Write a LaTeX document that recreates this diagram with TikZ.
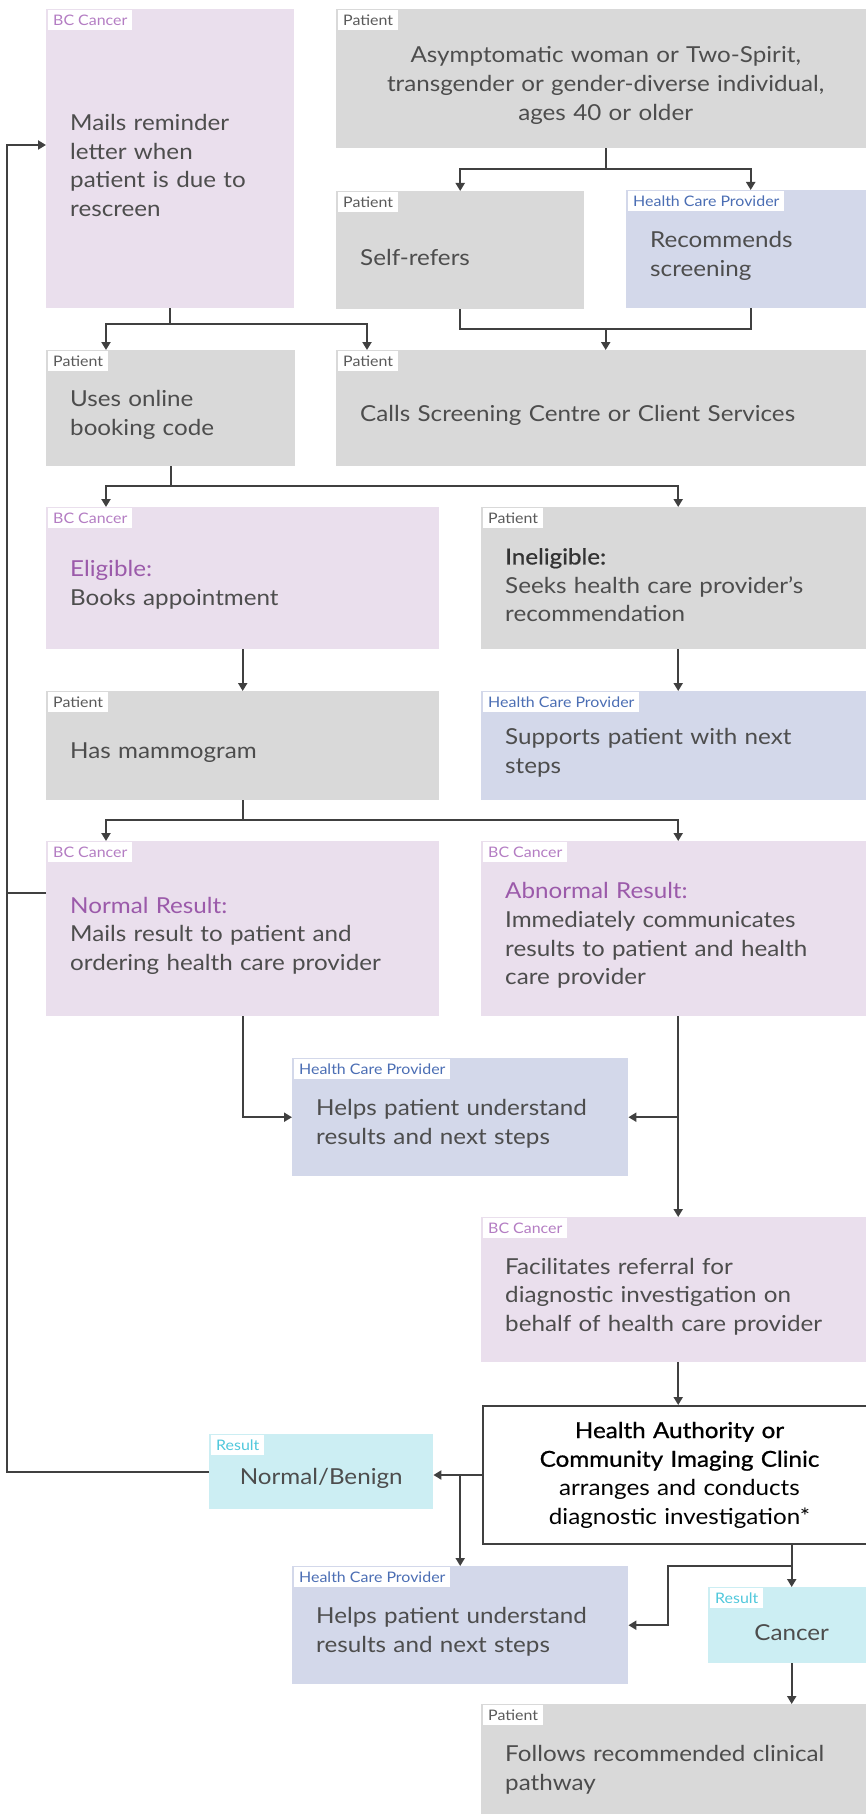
\documentclass[tikz,border=0pt]{standalone}
\usepackage{fontspec}
\setmainfont{Lato}[FakeStretch=1.1]
\newfontfamily\medfont{Lato}[FakeStretch=1.1, FakeBold=0.8]
\usetikzlibrary{arrows.meta}

\definecolor{ink}{RGB}{77,77,77}
\definecolor{linec}{RGB}{64,64,64}
\definecolor{emph}{RGB}{155,90,170}
\definecolor{bcfill}{RGB}{234,223,237}
\definecolor{bctag}{RGB}{180,125,195}
\definecolor{ptfill}{RGB}{217,217,217}
\definecolor{pttag}{RGB}{90,90,90}
\definecolor{hcpfill}{RGB}{211,216,234}
\definecolor{hcptag}{RGB}{75,110,180}
\definecolor{resfill}{RGB}{204,238,243}
\definecolor{restag}{RGB}{80,200,220}

\newcommand{\bodyfont}{\fontsize{22}{28.7}\selectfont}
\newcommand{\tagfont}{\fontsize{14.5}{16}\selectfont}

\tikzset{
  box/.style={anchor=north west, inner ysep=0pt, font=\bodyfont, text=ink},
  leftbox/.style={box, inner xsep=12pt, align=left, execute at begin node={\leftskip=12pt\rule{0pt}{30pt}}},
  midbox/.style={box, inner xsep=24pt, align=center, execute at begin node={\rule{0pt}{30pt}}},
  bcbox/.style={leftbox, fill=bcfill},
  ptbox/.style={leftbox, fill=ptfill},
  hcpbox/.style={leftbox, fill=hcpfill},
  resbox/.style={midbox, fill=resfill},
  tag/.style={anchor=north west, fill=white, inner xsep=5pt, inner ysep=0pt, minimum height=20pt, font=\tagfont, text=#1},
  link/.style={draw=linec, line width=2pt},
  conn/.style={link, -{Triangle[length=8pt,width=9pt]}},
}

\begin{document}
\begin{tikzpicture}[x=1pt,y=-1pt]
  \useasboundingbox (0,0) rectangle (866,1814);
  \clip (0,0) rectangle (866,1814);

  % screening start
  \node[bcbox, text width=224pt, minimum height=299pt] (remind) at (46,9) {Mails reminder\\letter when\\patient is due to\\rescreen};
  \node[midbox, fill=ptfill, text width=491pt, minimum height=139pt] (asym) at (336,9) {Asymptomatic woman or Two-Spirit,\\transgender or gender-diverse individual,\\ages 40 or older};
  \node[ptbox, text width=224pt, minimum height=118pt] (selfref) at (336,191) {Self-refers};
  \node[hcpbox, text width=225pt, minimum height=118pt] (recom) at (626,190) {Recommends\\screening};
  \node[ptbox, text width=225pt, minimum height=116pt] (online) at (46,350) {Uses online\\booking code};
  \node[ptbox, text width=515pt, minimum height=116pt] (calls) at (336,350) {Calls Screening Centre or Client Services};

  % eligibility
  \node[bcbox, text width=369pt, minimum height=142pt] (elig) at (46,507) {\textcolor{emph}{Eligible:}\\Books appointment};
  \node[ptbox, text width=370pt, minimum height=142pt] (inelig) at (481,507) {{\medfont\color{black!80}Ineligible:}\\Seeks health care provider's\\recommendation};
  \node[ptbox, text width=369pt, minimum height=109pt] (mammo) at (46,691) {Has mammogram};
  \node[hcpbox, text width=370pt, minimum height=109pt] (supports) at (481,691) {Supports patient with next\\steps};

  % results
  \node[bcbox, text width=369pt, minimum height=175pt] (normal) at (46,841) {\textcolor{emph}{Normal Result:}\\Mails result to patient and\\ordering health care provider};
  \node[bcbox, text width=370pt, minimum height=175pt] (abnormal) at (481,841) {\textcolor{emph}{Abnormal Result:}\\Immediately communicates\\results to patient and health\\care provider};
  \node[hcpbox, text width=312pt, minimum height=118pt] (help1) at (292,1058) {Helps patient understand\\results and next steps};
  \node[bcbox, text width=370pt, minimum height=145pt] (facil) at (481,1217) {Facilitates referral for\\diagnostic investigation on\\behalf of health care provider};

  % diagnostics
  \node[box, draw=linec, line width=2pt, fill=white, inner xsep=24pt, align=center, text=black, text width=345pt, minimum height=138pt] (ha) at (482,1405) {{\medfont Health Authority or}\\{\medfont Community Imaging Clinic}\\arranges and conducts\\diagnostic investigation*};
  \node[resbox, text width=176pt, minimum height=75pt] (benign) at (209,1434) {Normal/Benign};
  \node[hcpbox, text width=312pt, minimum height=118pt] (help2) at (292,1566) {Helps patient understand\\results and next steps};
  \node[resbox, text width=119pt, minimum height=76pt] (cancer) at (708,1587) {Cancer};
  \node[ptbox, text width=370pt, minimum height=118pt] (follows) at (481,1704) {Follows recommended clinical\\pathway};

  % role tags
  \node[tag=bctag] (remindtag) at ([shift={(2,1)}]remind.north west) {BC Cancer};
  \node[tag=pttag] (asymtag) at ([shift={(2,1)}]asym.north west) {Patient};
  \node[tag=pttag] (selfreftag) at ([shift={(2,1)}]selfref.north west) {Patient};
  \node[tag=hcptag] (recomtag) at ([shift={(2,1)}]recom.north west) {Health Care Provider};
  \node[tag=pttag] (onlinetag) at ([shift={(2,1)}]online.north west) {Patient};
  \node[tag=pttag] (callstag) at ([shift={(2,1)}]calls.north west) {Patient};
  \node[tag=bctag] (eligtag) at ([shift={(2,1)}]elig.north west) {BC Cancer};
  \node[tag=pttag] (inneligtag) at ([shift={(2,1)}]inelig.north west) {Patient};
  \node[tag=pttag] (mammotag) at ([shift={(2,1)}]mammo.north west) {Patient};
  \node[tag=hcptag] (supportstag) at ([shift={(2,1)}]supports.north west) {Health Care Provider};
  \node[tag=bctag] (normaltag) at ([shift={(2,1)}]normal.north west) {BC Cancer};
  \node[tag=bctag] (abnormaltag) at ([shift={(2,1)}]abnormal.north west) {BC Cancer};
  \node[tag=hcptag] (help1tag) at ([shift={(2,1)}]help1.north west) {Health Care Provider};
  \node[tag=bctag] (faciltag) at ([shift={(2,1)}]facil.north west) {BC Cancer};
  \node[tag=restag] (benigntag) at ([shift={(2,1)}]benign.north west) {Result};
  \node[tag=hcptag] (help2tag) at ([shift={(2,1)}]help2.north west) {Health Care Provider};
  \node[tag=restag] (cancertag) at ([shift={(2,1)}]cancer.north west) {Result};
  \node[tag=pttag] (followstag) at ([shift={(2,1)}]follows.north west) {Patient};

  % connectors
  \draw[conn] (asym.south) -- ++(0,21) -| (selfref.north);
  \draw[conn] (asym.south) -- ++(0,21) -| (recom.north);
  \draw[link] (selfref.south) -- ++(0,20) -| (recom.south);
  \draw[conn] ([yshift=21pt]calls.north) -- (calls.north);
  \draw[conn] (remind.south) -- ++(0,16) -| ([xshift=60pt]online.north west);
  \draw[conn] (remind.south) -- ++(0,16) -| ([xshift=31pt]calls.north west);
  \draw[conn] (online.south) -- ++(0,20) -| ([xshift=60pt]elig.north west);
  \draw[conn] (online.south) -- ++(0,20) -| (inelig.north);
  \draw[conn] (elig) -- (mammo);
  \draw[conn] (inelig) -- (supports);
  \draw[conn] (mammo.south) -- ++(0,20) -| ([xshift=60pt]normal.north west);
  \draw[conn] (mammo.south) -- ++(0,20) -| (abnormal.north);
  \draw[conn] (normal.south) |- (help1.west);
  \draw[conn] (abnormal) -- (facil);
  \draw[conn] (abnormal.south |- help1.east) -- (help1.east);
  \draw[conn] (facil.south) -- (facil.south |- ha.north);
  \draw[conn] (ha.west) -- (ha.west -| benign.east);
  \draw[conn] (ha.west -| help2.north) -- (help2.north);
  \draw[conn] (cancer.north |- ha.south) -- (cancer.north);
  \draw[conn] (cancer.north |- help2.north) -| ([xshift=40pt]help2.east) -- (help2.east);
  \draw[conn] (cancer.south) -- (cancer.south |- follows.north);

  % back to reminder
  \coordinate (back) at (7,145);
  \coordinate (nrm) at ([yshift=36pt]normal.west);
  \draw[conn] (benign.west) -| (back) -- (back -| remind.west);
  \draw[link] (nrm) -- (nrm -| back);
\end{tikzpicture}
\end{document}
